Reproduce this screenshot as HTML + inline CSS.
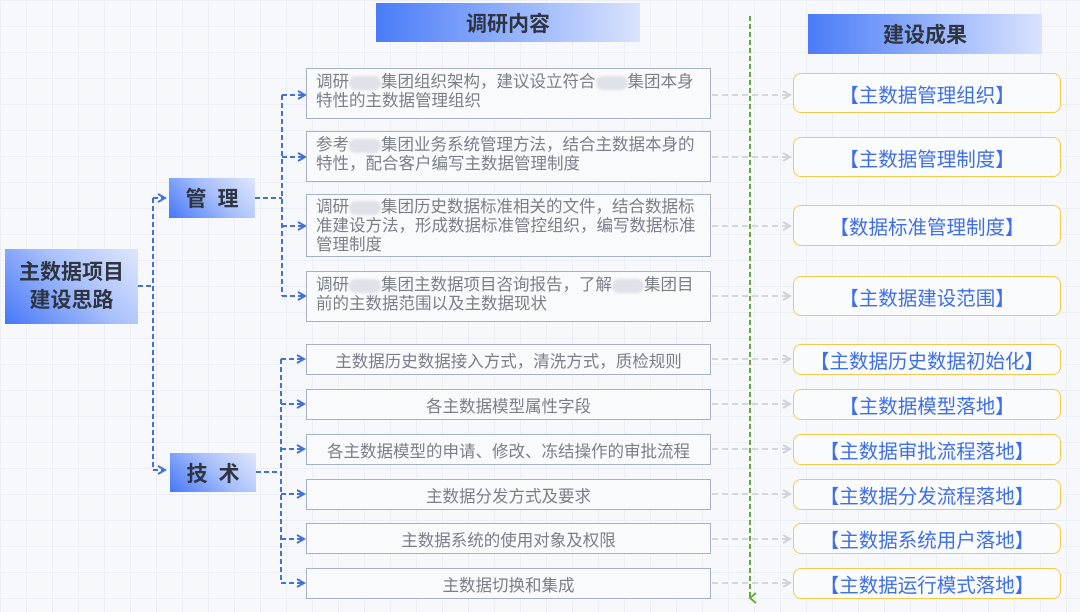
<!DOCTYPE html>
<html><head><meta charset="utf-8"><style>
*{margin:0;padding:0;box-sizing:border-box}
body{width:1080px;height:612px;position:relative;overflow:hidden;background:#f7f8fc;font-family:"Liberation Sans","Noto Sans CJK SC",sans-serif;
background-image:linear-gradient(#eceff5 1px,transparent 1px),linear-gradient(90deg,#eceff5 1px,transparent 1px);background-size:26px 26px}
.a{position:absolute}
.hdr{background:linear-gradient(90deg,#4a7cf8,#d9e3fd);font-weight:bold;color:#2e3440;font-size:21px;display:flex;align-items:center;justify-content:center}
.node{background:linear-gradient(45deg,#4677f7 0%,#a9c0fb 55%,#dfe7fd 100%);font-weight:bold;color:#2e3440;display:flex;align-items:center;justify-content:center;text-align:center}
.m{border:1.5px solid #a6b1c6;background:#f9fafc;color:#7a7f88;font-size:16.5px;line-height:19px;padding:4px 0 0 9px;white-space:nowrap}
.t{border:1.5px solid #a6b1c6;background:#f9fafc;color:#7a7f88;font-size:16.5px;display:flex;align-items:center;justify-content:center;white-space:nowrap}
.r{border:1.5px solid #f7c94a;border-radius:8px;background:#fafbfd;color:#3f6fe6;font-size:19.5px;display:flex;align-items:center;justify-content:center;white-space:nowrap}
.b{display:inline-block;width:32px;height:14px;background:#dfe2e8;border-radius:7px;vertical-align:middle;filter:blur(1px)}
</style></head><body>
<svg class="a" style="left:0;top:0" width="1080" height="612">
<defs>
<marker id="ar" markerWidth="10" markerHeight="10" refX="8" refY="5" orient="auto" markerUnits="userSpaceOnUse"><path d="M1,1 L8,5 L1,9" fill="none" stroke="#4471d4" stroke-width="2"/></marker>
<marker id="ag" markerWidth="10" markerHeight="10" refX="8" refY="5" orient="auto" markerUnits="userSpaceOnUse"><path d="M1,1 L8,5 L1,9" fill="none" stroke="#cfd2d8" stroke-width="2"/></marker>
<marker id="agr" markerWidth="12" markerHeight="12" refX="6" refY="9" orient="auto" markerUnits="userSpaceOnUse"><path d="M1,3 L6,9 L11,3" fill="none" stroke="#6aaa3a" stroke-width="2"/></marker>
</defs>
<g fill="none" stroke="#4471d4" stroke-width="2" stroke-dasharray="5,3">
<path d="M138,286 H153"/>
<path d="M153,198 V470"/>
<path d="M153,198 H165" marker-end="url(#ar)"/>
<path d="M153,470 H165" marker-end="url(#ar)"/>
<path d="M255,198 H282"/>
<path d="M282,95 V296"/>
<path d="M282,95 H305" marker-end="url(#ar)"/>
<path d="M282,157 H305" marker-end="url(#ar)"/>
<path d="M282,226 H305" marker-end="url(#ar)"/>
<path d="M282,296 H305" marker-end="url(#ar)"/>
<path d="M256,472 H281"/>
<path d="M281,359 V583"/>
<path d="M281,359 H304" marker-end="url(#ar)"/>
<path d="M281,404 H304" marker-end="url(#ar)"/>
<path d="M281,449 H304" marker-end="url(#ar)"/>
<path d="M281,494 H304" marker-end="url(#ar)"/>
<path d="M281,539 H304" marker-end="url(#ar)"/>
<path d="M281,583 H304" marker-end="url(#ar)"/>
</g>
<g fill="none" stroke="#d3d6dc" stroke-width="2" stroke-dasharray="6,4">
<path d="M712,95 H790" marker-end="url(#ag)"/>
<path d="M712,157 H790" marker-end="url(#ag)"/>
<path d="M712,226 H790" marker-end="url(#ag)"/>
<path d="M712,296 H790" marker-end="url(#ag)"/>
<path d="M712,359 H790" marker-end="url(#ag)"/>
<path d="M712,404 H790" marker-end="url(#ag)"/>
<path d="M712,449 H790" marker-end="url(#ag)"/>
<path d="M712,494 H790" marker-end="url(#ag)"/>
<path d="M712,539 H790" marker-end="url(#ag)"/>
<path d="M712,583 H790" marker-end="url(#ag)"/>
</g>
<path d="M750,16 V598" stroke="#6aaa3a" stroke-width="2" stroke-dasharray="5,3" fill="none" marker-end="url(#agr)"/>
</svg>

<div class="a hdr" style="left:376px;top:3px;width:264px;height:39px">调研内容</div>
<div class="a hdr" style="left:808px;top:14px;width:234px;height:40px">建设成果</div>

<div class="a node" style="left:5px;top:249px;width:133px;height:75px;font-size:21px;line-height:28px">主数据项目<br>建设思路</div>
<div class="a node" style="left:169px;top:178px;width:86px;height:40px;font-size:21px;letter-spacing:11px;padding-left:11px">管理</div>
<div class="a node" style="left:170px;top:453px;width:86px;height:39px;font-size:21px;letter-spacing:11px;padding-left:11px">技术</div>

<div class="a m" style="left:306px;top:68px;width:405px;height:51px">调研<span class="b"></span>集团组织架构，建议设立符合<span class="b"></span>集团本身<br>特性的主数据管理组织</div>
<div class="a m" style="left:306px;top:131px;width:405px;height:51px">参考<span class="b"></span>集团业务系统管理方法，结合主数据本身的<br>特性，配合客户编写主数据管理制度</div>
<div class="a m" style="left:306px;top:194px;width:405px;height:63px;padding-top:3px">调研<span class="b"></span>集团历史数据标准相关的文件，结合数据标<br>准建设方法，形成数据标准管控组织，编写数据标准<br>管理制度</div>
<div class="a m" style="left:306px;top:271px;width:405px;height:51px">调研<span class="b"></span>集团主数据项目咨询报告，了解<span class="b"></span>集团目<br>前的主数据范围以及主数据现状</div>

<div class="a t" style="left:306px;top:344px;width:405px;height:31px">主数据历史数据接入方式，清洗方式，质检规则</div>
<div class="a t" style="left:306px;top:389px;width:405px;height:31px">各主数据模型属性字段</div>
<div class="a t" style="left:306px;top:434px;width:405px;height:31px">各主数据模型的申请、修改、冻结操作的审批流程</div>
<div class="a t" style="left:306px;top:479px;width:405px;height:31px">主数据分发方式及要求</div>
<div class="a t" style="left:306px;top:523px;width:405px;height:31px">主数据系统的使用对象及权限</div>
<div class="a t" style="left:306px;top:568px;width:405px;height:31px">主数据切换和集成</div>

<div class="a r" style="left:793px;top:73px;width:268px;height:40px">【主数据管理组织】</div>
<div class="a r" style="left:793px;top:137px;width:268px;height:40px">【主数据管理制度】</div>
<div class="a r" style="left:793px;top:205px;width:268px;height:41px">【数据标准管理制度】</div>
<div class="a r" style="left:793px;top:276px;width:268px;height:40px">【主数据建设范围】</div>
<div class="a r" style="left:793px;top:344px;width:268px;height:31px">【主数据历史数据初始化】</div>
<div class="a r" style="left:793px;top:389px;width:268px;height:31px">【主数据模型落地】</div>
<div class="a r" style="left:793px;top:434px;width:268px;height:31px">【主数据审批流程落地】</div>
<div class="a r" style="left:793px;top:479px;width:268px;height:31px">【主数据分发流程落地】</div>
<div class="a r" style="left:793px;top:523px;width:268px;height:31px">【主数据系统用户落地】</div>
<div class="a r" style="left:793px;top:568px;width:268px;height:31px">【主数据运行模式落地】</div>
</body></html>
